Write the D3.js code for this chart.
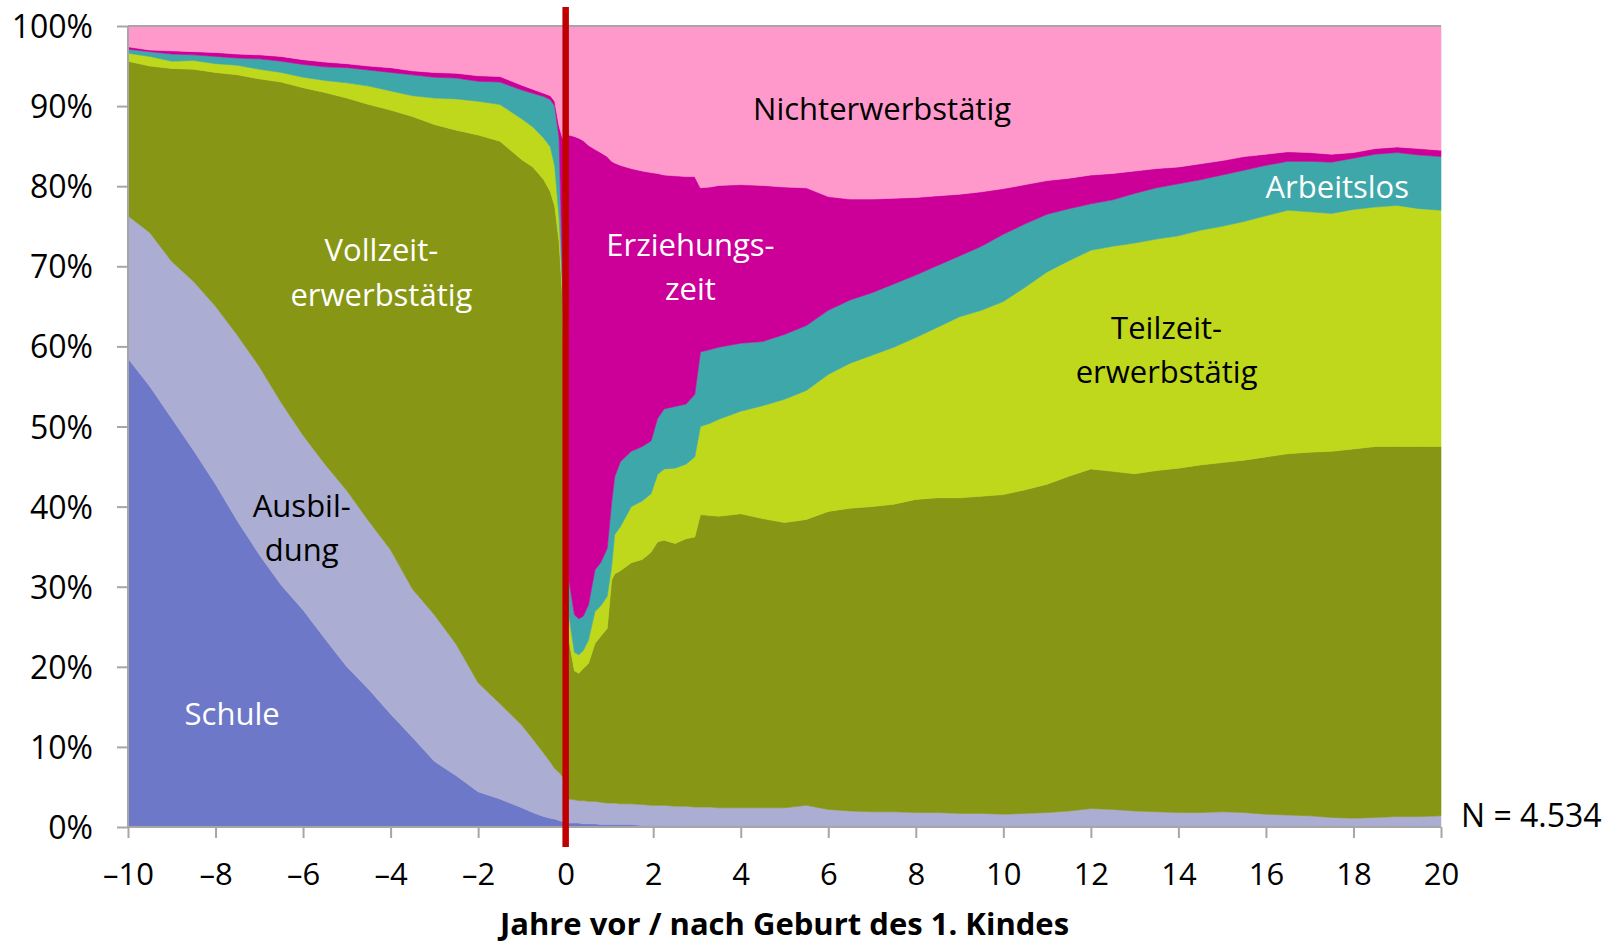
<!DOCTYPE html>
<html>
<head>
<meta charset="utf-8">
<script src="https://cdn.jsdelivr.net/npm/d3@7"></script>
<style>
  html, body { margin: 0; padding: 0; background: #fff; }
  svg { display: block; }
  text { font-family: "Open Sans", "Noto Sans", sans-serif; }
</style>
</head>
<body>
<svg id="chart" width="1613" height="946"></svg>
<script>
// ---- data (shares in %) ----
const years = [-10,-9.5,-9,-8.5,-8,-7.5,-7,-6.5,-6,-5.5,-5,-4.5,-4,-3.5,-3,-2.5,-2,-1.5,-1,-0.75,-0.5,-0.35,-0.25,-0.15,-0.07,
  0.07,0.2,0.3,0.4,0.52,0.67,0.8,0.95,1.05,1.12,1.25,1.5,1.75,1.95,2.1,2.25,2.5,2.75,2.95,3.08,3.3,3.5,
  4,4.5,5,5.5,6,6.5,7,7.5,8,8.5,9,9.5,10,10.5,11,11.5,12,12.5,13,13.5,14,14.5,15,15.5,16,16.5,17,17.5,18,18.5,19,19.5,20];

const schule = [58.5,55.0,51.0,47.0,42.8,38.2,34.0,30.2,27.1,23.5,20.0,17.2,14.1,11.2,8.2,6.4,4.4,3.5,2.4,1.8,1.3,1.1,1.0,0.8,0.7,
  0.5,0.5,0.5,0.4,0.4,0.4,0.3,0.3,0.3,0.3,0.3,0.3,0.2,0.2,0.2,0.2,0.2,0.1,0.1,0.1,0.1,0.1,
  0,0,0,0,0,0,0,0,0,0,0,0,0,0,0,0,0,0,0,0,0,0,0,0,0,0,0,0,0,0,0,0,0];

const ausbildung = [17.8,19.2,19.6,21.1,22.2,23.2,23.5,22.8,21.8,21.8,22.0,21.0,20.5,18.5,18.3,16.4,13.6,11.9,10.3,9.2,7.9,7.0,6.3,6.0,5.6,
  3.0,2.9,2.8,2.9,2.8,2.8,2.8,2.7,2.7,2.7,2.6,2.6,2.6,2.5,2.5,2.5,2.4,2.5,2.4,2.4,2.4,2.3,
  2.4,2.4,2.4,2.7,2.2,2.0,1.9,1.9,1.8,1.8,1.7,1.7,1.6,1.7,1.8,2.0,2.3,2.2,2.0,1.9,1.8,1.8,1.9,1.8,1.6,1.5,1.4,1.2,1.1,1.2,1.3,1.3,1.4];

const vollzeit = [19.3,20.8,24.1,26.5,29.2,32.5,35.9,40.0,43.4,46.4,49.0,52.0,54.9,59.0,61.2,64.2,68.4,70.2,70.6,71.4,71.6,71.2,70.2,66.2,59.7,
  20.0,16.1,15.9,16.5,17.2,19.7,20.7,21.8,27.8,28.6,29.1,30.1,30.6,31.6,32.9,33.1,32.8,33.4,33.7,36.5,36.4,36.4,
  36.7,36.1,35.6,35.7,37.2,37.8,38.1,38.4,39.1,39.3,39.4,39.6,39.9,40.4,41.0,41.8,42.4,42.2,42.1,42.6,43.0,43.4,43.6,44.0,44.6,45.1,45.4,45.7,46.1,46.3,46.2,46.2,46.1];

const teilzeit = [1.0,1.2,0.9,1.1,1.1,1.2,1.2,1.2,1.3,1.5,1.9,2.3,2.4,2.6,3.3,3.9,4.2,4.6,5.1,5.0,5.2,5.6,5.0,3.0,1.0,
  3.0,2.3,2.3,2.2,2.9,4.0,3.8,4.0,1.7,4.9,5.5,7.0,7.3,7.3,8.4,8.9,9.4,9.3,10.0,11.0,11.5,12.1,
  12.8,14.1,15.4,16.1,17.1,18.1,18.9,19.6,20.2,21.3,22.6,23.2,24.1,25.3,26.5,26.9,27.3,28.1,28.8,28.9,29.0,29.3,29.5,29.8,30.1,30.4,30.0,29.7,29.9,29.9,30.1,29.7,29.5];

const arbeitslos = [0.5,0.6,0.9,0.7,0.9,0.9,1.3,1.4,1.6,1.7,1.9,2.0,2.3,2.6,2.6,2.6,2.5,2.8,3.6,4.2,5.2,5.9,7.5,10.0,1.0,
  4.5,4.7,4.5,4.3,4.4,5.2,5.4,6.0,8.0,7.2,8.1,6.9,6.8,6.6,7.0,7.5,7.7,7.5,7.8,9.3,9.2,9.0,
  8.5,8.0,8.1,8.1,8.0,7.9,7.8,7.9,7.8,7.7,7.6,8.0,8.4,7.9,7.2,6.5,5.8,5.8,6.2,6.4,6.5,6.3,6.4,6.4,6.3,6.1,6.3,6.4,6.4,6.6,6.6,6.7,6.7];

const erziehung = [0.3,0.2,0.4,0.4,0.5,0.5,0.5,0.6,0.6,0.6,0.5,0.5,0.6,0.5,0.6,0.6,0.7,0.7,0.6,0.5,0.4,0.5,0.6,1.5,18.0,
  55.4,59.7,60.0,59.4,57.4,52.5,51.2,48.9,42.6,39.2,37.0,35.3,34.4,33.5,30.6,29.2,28.8,28.4,27.2,20.5,20.3,20.2,
  19.8,19.5,18.4,17.2,14.2,12.6,11.7,10.7,9.7,8.7,7.7,6.8,5.7,4.9,4.2,3.8,3.6,3.3,2.8,2.4,2.1,2.0,1.8,1.7,1.4,1.2,1.1,1.0,0.7,0.7,0.7,0.8,0.8];

const nichterw = [2.6,3.0,3.1,3.2,3.3,3.5,3.6,3.8,4.2,4.5,4.7,5.0,5.2,5.6,5.8,5.9,6.2,6.3,7.4,7.9,8.4,8.7,9.4,12.5,14.0,
  13.6,13.8,14.0,14.3,14.9,15.4,15.8,16.3,16.9,17.1,17.4,17.8,18.1,18.3,18.4,18.6,18.7,18.8,18.8,20.2,20.1,19.9,
  19.8,19.9,20.1,20.2,21.3,21.6,21.6,21.5,21.4,21.2,21.0,20.7,20.3,19.8,19.3,19.0,18.6,18.4,18.1,17.8,17.6,17.2,16.8,16.3,16.0,15.7,15.8,16.0,15.8,15.3,15.1,15.3,15.5];

const seriesKeys = ["Schule","Ausbildung","Vollzeit","Teilzeit","Arbeitslos","Erziehungszeit","Nichterwerbstätig"];
const seriesValues = [schule, ausbildung, vollzeit, teilzeit, arbeitslos, erziehung, nichterw];
const seriesColors = ["#6e78c8","#abaed2","#879614","#bfd81c","#3ea7aa","#cc0099","#ff99cc"];

const yTicks = [0,10,20,30,40,50,60,70,80,90,100];
const xTicks = [-10,-8,-6,-4,-2,0,2,4,6,8,10,12,14,16,18,20];
const xTitle = "Jahre vor / nach Geburt des 1. Kindes";
const sampleNote = "N = 4.534";

// ---- layout ----
const svg = d3.select("#chart");
const L = 128, R = 1441, T = 26, B = 827;
const x = d3.scaleLinear().domain([-10, 20]).range([L, R]);
const y = d3.scaleLinear().domain([0, 100]).range([B, T]);

const rows = years.map((t, i) => {
  const r = {t};
  seriesKeys.forEach((k, j) => r[k] = seriesValues[j][i]);
  return r;
});
const stacked = d3.stack().keys(seriesKeys)(rows);

const area = d3.area()
  .x(d => x(d.data.t))
  .y0(d => y(d[0]))
  .y1(d => y(d[1]))
  .curve(d3.curveLinear);

svg.append("g").selectAll("path").data(stacked).join("path")
  .attr("d", area)
  .attr("fill", (d, i) => seriesColors[i])
  .attr("stroke", (d, i) => seriesColors[i])
  .attr("stroke-width", 0.6);

const axisColor = "#a6a6a6";

// top border
svg.append("line").attr("x1", L).attr("x2", R).attr("y1", T).attr("y2", T)
  .attr("stroke", axisColor).attr("stroke-width", 2);

// y axis
const yAxis = svg.append("g").attr("transform", `translate(${L},0)`)
  .call(d3.axisLeft(y).tickValues(yTicks).tickSize(11).tickPadding(24).tickFormat(d => d + "%"));
// x axis
const xAxis = svg.append("g").attr("transform", `translate(0,${B})`)
  .call(d3.axisBottom(x).tickValues(xTicks).tickSize(11).tickPadding(24).tickFormat(d => d < 0 ? "–" + Math.abs(d) : String(d)));

[yAxis, xAxis].forEach(g => {
  g.select(".domain").attr("stroke", axisColor).attr("stroke-width", 2);
  g.selectAll(".tick line").attr("stroke", axisColor).attr("stroke-width", 2);
  g.selectAll(".tick text").attr("fill", "#000")
    .style("font-family", '"Open Sans", sans-serif');
});
yAxis.selectAll(".tick text").attr("dy", "0.36em").style("font-size", "32px");
xAxis.selectAll(".tick text").attr("dy", "0.75em").style("font-size", "31px");
yAxis.select(".domain").attr("d", `M-0,${B}V${T}`);
xAxis.select(".domain").attr("d", `M${L},0H${R}`);

// red birth line
svg.append("line")
  .attr("x1", x(0)).attr("x2", x(0)).attr("y1", 7).attr("y2", 847)
  .attr("stroke", "#c00000").attr("stroke-width", 6.5);

// area labels (positions in data coords)
const labels = [
  {lines:["Nichterwerbstätig"], t:7.23, v:88.3, fill:"#000"},
  {lines:["Vollzeit-","erwerbstätig"], t:-4.21, v:70.6, fill:"#fff"},
  {lines:["Ausbil-","dung"], t:-6.03, v:38.7, fill:"#000"},
  {lines:["Schule"], t:-7.62, v:12.7, fill:"#fff"},
  {lines:["Erziehungs-","zeit"], t:2.85, v:71.3, fill:"#fff"},
  {lines:["Teilzeit-","erwerbstätig"], t:13.73, v:60.9, fill:"#000"},
  {lines:["Arbeitslos"], t:17.63, v:78.5, fill:"#fff"}
];
const lh = 44.2;
labels.forEach(lb => {
  const tx = svg.append("text")
    .attr("x", x(lb.t)).attr("y", y(lb.v))
    .attr("text-anchor", "middle")
    .attr("fill", lb.fill)
    .style("font-size", "31px");
  lb.lines.forEach((ln, i) => {
    tx.append("tspan").attr("x", x(lb.t)).attr("dy", i === 0 ? 0 : lh).text(ln);
  });
});

// sample size note
svg.append("text").attr("x", 1461).attr("y", 827)
  .attr("fill", "#000").style("font-size", "32px").text(sampleNote);

// x axis title
svg.append("text").attr("x", (L + R) / 2).attr("y", 935)
  .attr("text-anchor", "middle").attr("fill", "#000")
  .style("font-size", "31px").style("font-weight", "bold").text(xTitle);
</script>
</body>
</html>
